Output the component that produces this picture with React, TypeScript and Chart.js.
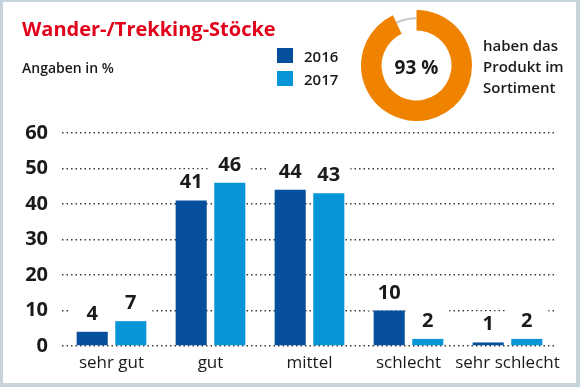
import React, { useEffect, useRef } from "react";
import { Chart, registerables } from "chart.js";

Chart.register(...registerables);

const categories = ["sehr gut", "gut", "mittel", "schlecht", "sehr schlecht"];
const seriesLabels = ["2016", "2017"];
const values2016 = [4, 41, 44, 10, 1];
const values2017 = [7, 46, 43, 2, 2];
const yTicks = [0, 10, 20, 30, 40, 50, 60];
const donutValues = [93, 7];
const donutCenterLabel = "93 %";
const donutNote = ["haben das", "Produkt im", "Sortiment"];
const title = "Wander-/Trekking-Stöcke";
const subtitle = "Angaben in %";

const C2016 = "#054f9d";
const C2017 = "#0696d8";
const ORANGE = "#ef8300";
const TEXT = "#1a1a1a";
const FONT = "'Open Sans', 'Noto Sans', sans-serif";

const valueLabelPlugin = {
  id: "valueLabels",
  beforeDatasetsDraw(chart: any) {
    const ctx = chart.ctx;
    ctx.save();
    ctx.fillStyle = "#ffffff";
    chart.data.datasets.forEach((_: any, di: number) => {
      const meta = chart.getDatasetMeta(di);
      meta.data.forEach((el: any) => {
        const w = el.width;
        ctx.fillRect(el.x - w / 2 - 6, el.y - 31, w + 12, 31);
      });
    });
    ctx.restore();
  },
  afterDatasetsDraw(chart: any) {
    const ctx = chart.ctx;
    ctx.save();
    ctx.fillStyle = TEXT;
    ctx.font = `700 20px ${FONT}`;
    ctx.textAlign = "center";
    ctx.textBaseline = "alphabetic";
    chart.data.datasets.forEach((ds: any, di: number) => {
      const meta = chart.getDatasetMeta(di);
      meta.data.forEach((el: any, i: number) => {
        ctx.fillText(String(ds.data[i]), el.x, el.y - 12);
      });
    });
    ctx.restore();
  },
};

const donutTrackPlugin = {
  id: "donutTrack",
  beforeDatasetsDraw(chart: any) {
    const meta = chart.getDatasetMeta(0);
    const arc = meta.data[1];
    if (!arc) return;
    const ctx = chart.ctx;
    const r = (arc.innerRadius + arc.outerRadius) / 2 + 2;
    ctx.save();
    ctx.strokeStyle = "#c8c8c8";
    ctx.lineWidth = 2;
    ctx.beginPath();
    ctx.arc(arc.x, arc.y, r, arc.startAngle, arc.endAngle);
    ctx.stroke();
    ctx.restore();
  },
};

export default function App() {
  const barRef = useRef<HTMLCanvasElement | null>(null);
  const donutRef = useRef<HTMLCanvasElement | null>(null);

  useEffect(() => {
    const bar = new Chart(barRef.current as HTMLCanvasElement, {
      type: "bar",
      data: {
        labels: categories,
        datasets: [
          { label: seriesLabels[0], data: values2016, backgroundColor: C2016 },
          { label: seriesLabels[1], data: values2017, backgroundColor: C2017 },
        ],
      },
      options: {
        responsive: false,
        animation: false,
        devicePixelRatio: 1,
        layout: { padding: { left: 10, top: 133, right: 23, bottom: 11 } },
        plugins: { legend: { display: false }, tooltip: { enabled: false } },
        datasets: { bar: { barPercentage: 0.805, categoryPercentage: 0.78 } } as any,
        scales: {
          x: {
            grid: { display: false, drawTicks: false },
            border: { display: false },
            ticks: { color: TEXT, font: { family: FONT, size: 17 }, padding: 7, maxRotation: 0, autoSkip: false },
            afterFit(scale: any) {
              scale.height = 30;
            },
          },
          y: {
            min: 0,
            max: 60,
            afterBuildTicks(scale: any) {
              scale.ticks = yTicks.map((v) => ({ value: v }));
            },
            grid: { color: "#3a3a3a", lineWidth: 1.5, drawTicks: false },
            border: { display: false, dash: [1.5, 3] },
            ticks: { color: TEXT, font: { family: FONT, size: 20, weight: "bold" }, padding: 14 },
            afterFit(scale: any) {
              scale.width = 52;
            },
          },
        },
      },
      plugins: [valueLabelPlugin],
    } as any);

    const donut = new Chart(donutRef.current as HTMLCanvasElement, {
      type: "doughnut",
      data: {
        labels: ["ja", "nein"],
        datasets: [
          {
            data: donutValues,
            backgroundColor: [ORANGE, "rgba(0,0,0,0)"],
            borderWidth: 0,
          },
        ],
      },
      options: {
        responsive: false,
        animation: false,
        devicePixelRatio: 1,
        cutout: "63%",
        layout: { padding: 0 },
        plugins: { legend: { display: false }, tooltip: { enabled: false } },
      },
      plugins: [donutTrackPlugin],
    } as any);

    return () => {
      bar.destroy();
      donut.destroy();
    };
  }, []);

  const abs = (s: React.CSSProperties): React.CSSProperties => ({ position: "absolute", margin: 0, ...s });

  return (
    <div
      style={{
        position: "fixed",
        left: 0,
        top: 0,
        width: 580,
        height: 387,
        background: "#ffffff",
        fontFamily: FONT,
        color: TEXT,
        overflow: "hidden",
      }}
    >
      <canvas ref={barRef} width={580} height={387} style={abs({ left: 0, top: 0, width: 580, height: 387 })} />
      <canvas ref={donutRef} width={111} height={111} style={abs({ left: 361, top: 10, width: 111, height: 111 })} />
      <div style={abs({ left: 22, top: 15, fontSize: 20, fontWeight: 700, color: "#e3001b", lineHeight: "28px", whiteSpace: "nowrap" })}>
        {title}
      </div>
      <div style={abs({ left: 22, top: 58, fontSize: 14, fontWeight: 600, lineHeight: "20px", whiteSpace: "nowrap" })}>
        {subtitle}
      </div>
      <div style={abs({ left: 277, top: 48, width: 16, height: 15, background: C2016 })} />
      <div style={abs({ left: 277, top: 71, width: 16, height: 15, background: C2017 })} />
      <div style={abs({ left: 304, top: 45, fontSize: 15, fontWeight: 600, lineHeight: "22px" })}>{seriesLabels[0]}</div>
      <div style={abs({ left: 304, top: 68, fontSize: 15, fontWeight: 600, lineHeight: "22px" })}>{seriesLabels[1]}</div>
      <div
        style={abs({ left: 361, top: 55, width: 111, textAlign: "center", fontSize: 19, fontWeight: 700, lineHeight: "24px", whiteSpace: "nowrap" })}
      >
        {donutCenterLabel}
      </div>
      <div style={abs({ left: 483, top: 35, fontSize: 15, fontWeight: 600, lineHeight: "21px", whiteSpace: "nowrap" })}>
        {donutNote.map((l) => (
          <div key={l}>{l}</div>
        ))}
      </div>
      <div
        style={abs({
          left: 0,
          top: 0,
          width: 580,
          height: 387,
          boxSizing: "border-box",
          borderStyle: "solid",
          borderColor: "#c7d3db",
          borderWidth: "2px 4px 4px 3px",
          pointerEvents: "none",
        })}
      />
    </div>
  );
}
